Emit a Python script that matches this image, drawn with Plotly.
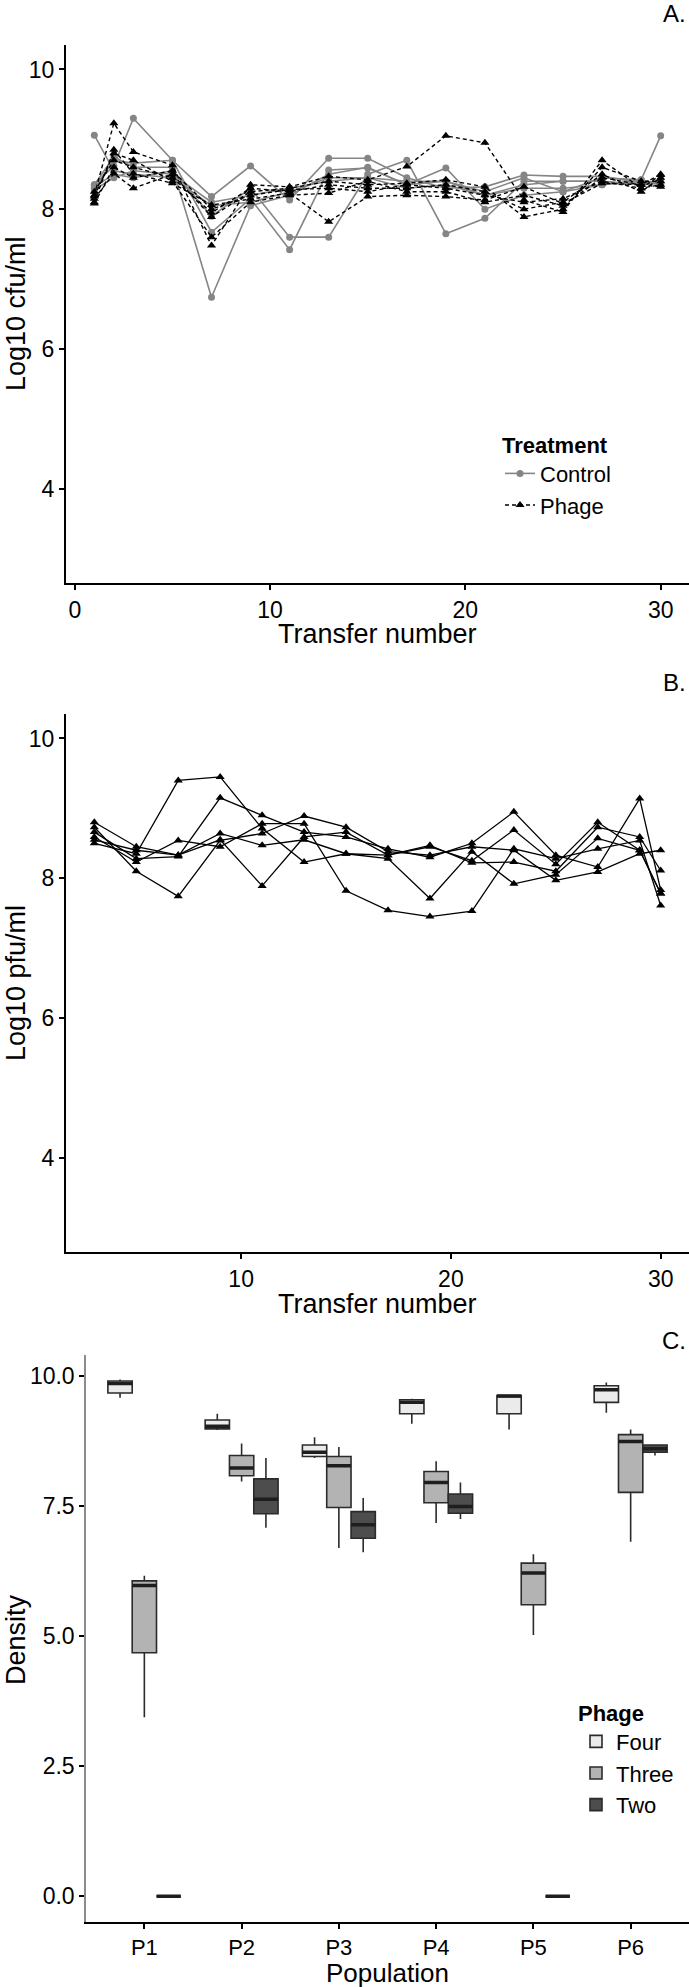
import plotly.graph_objects as go

# ---------------- data ----------------
# Panel A: bacterial density (Log10 cfu/ml) per transfer
transfers_a = [1, 2, 3, 5, 7, 9, 11, 13, 15, 17, 19, 21, 23, 25, 27, 29, 30]
control_1 = [9.06, 8.55, 8.50, 8.45, 8.05, 8.10, 8.25, 8.45, 8.45, 8.30, 8.35, 8.20, 8.30, 8.30, 8.35, 8.42, 9.05]
control_2 = [8.35, 8.62, 9.30, 8.70, 8.18, 8.62, 8.13, 8.73, 8.73, 8.45, 8.30, 8.32, 8.49, 8.47, 8.47, 8.38, 8.40]
control_3 = [8.35, 8.75, 8.60, 8.60, 6.74, 8.05, 8.20, 8.50, 8.60, 8.35, 8.40, 8.20, 8.35, 8.40, 8.40, 8.35, 8.38]
control_4 = [8.30, 8.70, 8.66, 8.70, 7.67, 8.15, 7.42, 8.56, 8.59, 8.35, 8.59, 8.00, 8.20, 8.25, 8.35, 8.40, 8.35]
control_5 = [8.32, 8.50, 8.45, 8.55, 7.90, 8.30, 7.60, 7.60, 8.50, 8.70, 7.65, 7.87, 8.40, 8.40, 8.40, 8.35, 8.38]
control_6 = [8.28, 8.45, 8.55, 8.50, 8.10, 8.20, 8.30, 8.40, 8.45, 8.40, 8.40, 8.25, 8.45, 8.25, 8.45, 8.42, 8.35]
phage_a_1 = [8.20, 9.23, 8.82, 8.63, 7.48, 8.35, 8.32, 8.47, 8.42, 8.61, 9.05, 8.95, 8.13, 7.96, 8.70, 8.30, 8.49]
phage_a_2 = [8.10, 8.85, 8.51, 8.37, 8.06, 8.15, 8.23, 7.82, 8.18, 8.20, 8.18, 8.13, 8.32, 8.08, 8.37, 8.35, 8.32]
phage_a_3 = [8.15, 8.51, 8.30, 8.50, 7.89, 8.25, 8.30, 8.40, 8.35, 8.37, 8.42, 8.32, 7.89, 8.00, 8.60, 8.40, 8.40]
phage_a_4 = [8.25, 8.70, 8.60, 8.45, 7.95, 8.30, 8.25, 8.35, 8.30, 8.30, 8.35, 8.25, 8.00, 8.10, 8.50, 8.25, 8.45]
phage_a_5 = [8.08, 8.60, 8.45, 8.55, 8.00, 8.20, 8.28, 8.30, 8.25, 8.35, 8.30, 8.20, 8.10, 8.15, 8.40, 8.30, 8.35]
phage_a_6 = [8.18, 8.80, 8.70, 8.40, 7.60, 8.10, 8.20, 8.23, 8.40, 8.25, 8.25, 8.10, 8.20, 8.05, 8.45, 8.35, 8.50]

# Panel B: phage density (Log10 pfu/ml) per transfer
transfers_b = [3, 5, 7, 9, 11, 13, 15, 17, 19, 21, 23, 25, 27, 29, 30]
phage_b_1 = [8.50, 8.35, 9.40, 9.45, 8.71, 8.23, 8.35, 8.33, 8.45, 8.25, 8.69, 8.20, 8.80, 8.40, 7.78]
phage_b_2 = [8.66, 8.28, 8.31, 9.15, 8.90, 8.66, 8.59, 8.42, 8.30, 8.50, 8.95, 8.33, 8.16, 9.14, 7.83]
phage_b_3 = [8.73, 8.10, 7.74, 8.54, 8.64, 8.89, 8.73, 8.38, 8.33, 8.45, 8.40, 7.97, 8.09, 8.35, 8.40]
phage_b_4 = [8.80, 8.45, 8.33, 8.55, 7.89, 8.59, 8.66, 8.33, 8.47, 8.22, 8.23, 8.10, 8.73, 8.59, 8.11]
phage_b_5 = [8.59, 8.23, 8.54, 8.45, 8.78, 8.78, 7.82, 7.54, 7.45, 7.53, 8.42, 8.28, 8.42, 8.54, 7.61]
phage_b_6 = [8.55, 8.40, 8.33, 8.64, 8.47, 8.55, 8.35, 8.28, 7.71, 8.38, 7.92, 8.05, 8.57, 8.40, 7.78]

# Panel C: box summaries per population
populations = ["P1", "P2", "P3", "P4", "P5", "P6"]
four_lo = [9.58, 8.96, 8.42, 9.08, 8.97, 9.29]
four_q1 = [9.67, 8.98, 8.45, 9.27, 9.27, 9.49]
four_med = [9.85, 9.03, 8.53, 9.49, 9.61, 9.73]
four_q3 = [9.90, 9.15, 8.67, 9.54, 9.62, 9.81]
four_hi = [9.93, 9.27, 8.82, 9.56, 9.63, 9.87]
three_lo = [3.44, 7.97, 6.69, 7.17, 5.02, 6.81]
three_q1 = [4.68, 8.08, 7.47, 7.56, 5.60, 7.76]
three_med = [5.97, 8.23, 8.27, 7.95, 6.21, 8.74]
three_q3 = [6.06, 8.47, 8.45, 8.16, 6.40, 8.87]
three_hi = [6.16, 8.70, 8.63, 8.36, 6.57, 8.97]
two_lo = [0.0, 7.08, 6.61, 7.25, 0.0, 8.47]
two_q1 = [0.0, 7.35, 6.88, 7.36, 0.0, 8.53]
two_med = [0.0, 7.63, 7.14, 7.49, 0.0, 8.60]
two_q3 = [0.0, 8.02, 7.39, 7.73, 0.0, 8.67]
two_hi = [0.0, 8.42, 7.65, 7.95, 0.0, 8.67]

# ---------------- figure ----------------
W, H = 689, 1987
FONT = "Liberation Sans, Arial, Helvetica, sans-serif"
GREY = "#858585"

def px_x(v):
    return v / W

def px_y(v):
    return 1 - v / H

fig = go.Figure()

controls = [control_1, control_2, control_3, control_4, control_5, control_6]
phages_a = [phage_a_1, phage_a_2, phage_a_3, phage_a_4, phage_a_5, phage_a_6]
for i, ys in enumerate(controls):
    fig.add_trace(go.Scatter(
        x=transfers_a, y=ys, mode="lines+markers", name="Control",
        legendgroup="Control", showlegend=(i == 0), legend="legend",
        line=dict(color=GREY, width=1.6),
        marker=dict(symbol="circle", size=7, color=GREY),
        xaxis="x", yaxis="y"))
for i, ys in enumerate(phages_a):
    fig.add_trace(go.Scatter(
        x=transfers_a, y=ys, mode="lines+markers", name="Phage",
        legendgroup="Phage", showlegend=(i == 0), legend="legend",
        line=dict(color="black", width=1.4, dash="4px,3px"),
        marker=dict(symbol="triangle-up", size=8, color="black"),
        xaxis="x", yaxis="y"))

phages_b = [phage_b_1, phage_b_2, phage_b_3, phage_b_4, phage_b_5, phage_b_6]
for ys in phages_b:
    fig.add_trace(go.Scatter(
        x=transfers_b, y=ys, mode="lines+markers", showlegend=False,
        line=dict(color="black", width=1.3),
        marker=dict(symbol="triangle-up", size=8, color="black"),
        xaxis="x2", yaxis="y2"))

box_sets = [
    ("Four", "#EBEBEB", four_lo, four_q1, four_med, four_q3, four_hi),
    ("Three", "#B3B3B3", three_lo, three_q1, three_med, three_q3, three_hi),
    ("Two", "#4D4D4D", two_lo, two_q1, two_med, two_q3, two_hi),
]
for name, col, lo, q1, med, q3, hi in box_sets:
    fig.add_trace(go.Box(
        name=name, x=populations, lowerfence=lo, q1=q1, median=med, q3=q3,
        upperfence=hi, fillcolor=col, line=dict(color="#2b2b2b", width=1.6),
        whiskerwidth=0, boxpoints=False, legend="legend2",
        offsetgroup=name, alignmentgroup="C",
        xaxis="x3", yaxis="y3"))
# thick median bars drawn on top of each box (same position via offsetgroup)
for name, col, lo, q1, med, q3, hi in box_sets:
    fig.add_trace(go.Box(
        name=name + " median", x=populations, lowerfence=med, q1=med, median=med,
        q3=med, upperfence=med, fillcolor=col, line=dict(color="#1e1e1e", width=3.5),
        whiskerwidth=0, boxpoints=False, showlegend=False, hoverinfo="skip",
        offsetgroup=name, alignmentgroup="C",
        xaxis="x3", yaxis="y3"))

axis_common = dict(showgrid=False, zeroline=False, ticks="outside", ticklen=5,
                   tickwidth=1.5, tickcolor="black", showline=True,
                   linecolor="black", linewidth=2,
                   tickfont=dict(family=FONT, size=23, color="black"))

fig.update_layout(
    width=W, height=H, margin=dict(l=0, r=0, t=0, b=0),
    paper_bgcolor="white", plot_bgcolor="white",
    font=dict(family=FONT, color="black"),
    boxmode="group", boxgap=0.25, boxgroupgap=0,
    xaxis=dict(domain=[px_x(66), 1], range=[-0.45, 31.45], tickvals=[0, 10, 20, 30],
               anchor="y", **axis_common),
    yaxis=dict(domain=[px_y(583), px_y(45)], range=[2.65, 10.35], tickvals=[4, 6, 8, 10],
               anchor="x", **axis_common),
    xaxis2=dict(domain=[px_x(66), 1], range=[1.65, 31.35], tickvals=[10, 20, 30],
                anchor="y2", **axis_common),
    yaxis2=dict(domain=[px_y(1252), px_y(714)], range=[2.65, 10.35], tickvals=[4, 6, 8, 10],
                anchor="x2", **axis_common),
    xaxis3=dict(domain=[px_x(86), 1], range=[-0.6, 5.6], type="category",
                anchor="y3", **{**axis_common, "tickfont": dict(family=FONT, size=22, color="black")}),
    yaxis3=dict(domain=[px_y(1922), px_y(1355)], range=[-0.495, 10.4],
                tickvals=[0, 2.5, 5, 7.5, 10], ticktext=["0.0", "2.5", "5.0", "7.5", "10.0"],
                anchor="x3", **{**axis_common, "linecolor": "#8c8c8c", "linewidth": 1.5}),
    legend=dict(x=px_x(500), y=px_y(424), xanchor="left", yanchor="top",
                bgcolor="rgba(0,0,0,0)", tracegroupgap=0,
                title=dict(text="<b>Treatment</b>", font=dict(family=FONT, size=22)),
                font=dict(family=FONT, size=22)),
    legend2=dict(x=px_x(576), y=px_y(1692), xanchor="left", yanchor="top",
                 bgcolor="rgba(0,0,0,0)", tracegroupgap=0,
                 title=dict(text="<b>Phage</b>", font=dict(family=FONT, size=22)),
                 font=dict(family=FONT, size=22)),
)

annots = [
    ("A.", 688, 13, 0, "right", 24),
    ("B.", 688, 682, 0, "right", 24),
    ("C.", 688, 1340, 0, "right", 24),
    ("Transfer number", 378, 634, 0, "center", 27),
    ("Transfer number", 378, 1304, 0, "center", 27),
    ("Population", 387, 1973, 0, "center", 26),
    ("Log10 cfu/ml", 16, 314, -90, "center", 27),
    ("Log10 pfu/ml", 16, 983, -90, "center", 27),
    ("Density", 16, 1640, -90, "center", 27),
]
for text, ax, ay, ang, xa, sz in annots:
    fig.add_annotation(text=text, x=px_x(ax), y=px_y(ay), xref="paper", yref="paper",
                       xanchor=xa, yanchor="middle", textangle=ang, showarrow=False,
                       font=dict(family=FONT, size=sz, color="black"))

fig.write_html("out.html")
